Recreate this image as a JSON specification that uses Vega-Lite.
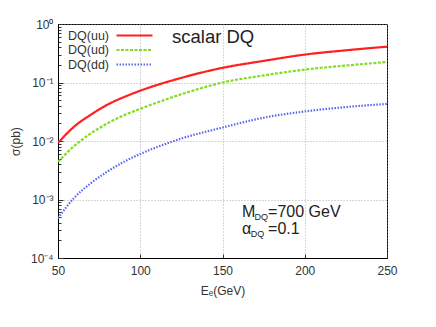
{
  "$schema": "https://vega.github.io/schema/vega-lite/v6.json",
  "autosize": {"type": "none"},
  "width": 329,
  "height": 234,
  "padding": {"left": 58, "top": 24, "right": 49, "bottom": 69},
  "background": "white",
  "config": {
    "view": {"stroke": "black", "strokeWidth": 1},
    "font": "Liberation Sans",
    "axis": {"labelFont": "Liberation Sans", "titleFont": "Liberation Sans", "labelColor": "#333", "titleColor": "#333", "titleFontWeight": "normal", "domainColor": "black", "tickColor": "#333", "gridColor": "#999", "gridDash": [1, 2], "gridWidth": 0.8}
  },
  "datasets": {
    "curves": [
      {"E": 50, "sigma": 0.0093, "series": "DQ(uu)"},
      {"E": 60, "sigma": 0.0178, "series": "DQ(uu)"},
      {"E": 70, "sigma": 0.0282, "series": "DQ(uu)"},
      {"E": 80, "sigma": 0.0417, "series": "DQ(uu)"},
      {"E": 90, "sigma": 0.0562, "series": "DQ(uu)"},
      {"E": 100, "sigma": 0.0724, "series": "DQ(uu)"},
      {"E": 125, "sigma": 0.120, "series": "DQ(uu)"},
      {"E": 150, "sigma": 0.178, "series": "DQ(uu)"},
      {"E": 175, "sigma": 0.234, "series": "DQ(uu)"},
      {"E": 200, "sigma": 0.300, "series": "DQ(uu)"},
      {"E": 225, "sigma": 0.355, "series": "DQ(uu)"},
      {"E": 250, "sigma": 0.410, "series": "DQ(uu)"},
      {"E": 50, "sigma": 0.0044, "series": "DQ(ud)"},
      {"E": 60, "sigma": 0.0083, "series": "DQ(ud)"},
      {"E": 70, "sigma": 0.0135, "series": "DQ(ud)"},
      {"E": 80, "sigma": 0.0200, "series": "DQ(ud)"},
      {"E": 90, "sigma": 0.0275, "series": "DQ(ud)"},
      {"E": 100, "sigma": 0.0355, "series": "DQ(ud)"},
      {"E": 125, "sigma": 0.063, "series": "DQ(ud)"},
      {"E": 150, "sigma": 0.100, "series": "DQ(ud)"},
      {"E": 175, "sigma": 0.132, "series": "DQ(ud)"},
      {"E": 200, "sigma": 0.166, "series": "DQ(ud)"},
      {"E": 225, "sigma": 0.195, "series": "DQ(ud)"},
      {"E": 250, "sigma": 0.224, "series": "DQ(ud)"},
      {"E": 50, "sigma": 0.00048, "series": "DQ(dd)"},
      {"E": 60, "sigma": 0.00108, "series": "DQ(dd)"},
      {"E": 70, "sigma": 0.0019, "series": "DQ(dd)"},
      {"E": 80, "sigma": 0.0030, "series": "DQ(dd)"},
      {"E": 90, "sigma": 0.0044, "series": "DQ(dd)"},
      {"E": 100, "sigma": 0.0060, "series": "DQ(dd)"},
      {"E": 125, "sigma": 0.011, "series": "DQ(dd)"},
      {"E": 150, "sigma": 0.017, "series": "DQ(dd)"},
      {"E": 175, "sigma": 0.025, "series": "DQ(dd)"},
      {"E": 200, "sigma": 0.032, "series": "DQ(dd)"},
      {"E": 225, "sigma": 0.038, "series": "DQ(dd)"},
      {"E": 250, "sigma": 0.043, "series": "DQ(dd)"}
    ],
    "notes": [
      {"E": 119.3, "sigma": 0.474, "text": "scalar DQ", "size": 18.5},
      {"E": 161.9, "sigma": 0.00051, "text": "M", "size": 16},
      {"E": 169.5, "sigma": 0.00044, "text": "DQ", "size": 9},
      {"E": 177.7, "sigma": 0.00051, "text": "=700 GeV", "size": 16},
      {"E": 161.9, "sigma": 0.00026, "text": "α", "size": 16},
      {"E": 167.2, "sigma": 0.000225, "text": "DQ", "size": 9},
      {"E": 177.7, "sigma": 0.00026, "text": "=0.1", "size": 16}
    ]
  },
  "layer": [
    {
      "data": {"name": "curves"},
      "mark": {"type": "line", "interpolate": "monotone", "clip": true},
      "encoding": {
        "x": {"field": "E", "type": "quantitative", "scale": {"domain": [50, 250], "nice": false},
          "axis": {"title": "Eₑ(GeV)", "titleFontSize": 12, "titlePadding": 9, "labelFontSize": 12, "labelPadding": 11, "values": [50, 100, 150, 200, 250], "tickSize": -4, "grid": true, "labelFlush": false}},
        "y": {"field": "sigma", "type": "quantitative", "scale": {"type": "log", "domain": [0.0001, 1], "nice": false},
          "axis": {"title": "σ(pb)", "titleFontSize": 12, "titlePadding": 8, "labelFontSize": 12, "labelPadding": 10, "labelOverlap": false,
            "values": [0.0001, 0.0002, 0.0003, 0.0004, 0.0005, 0.0006, 0.0007, 0.0008, 0.0009, 0.001, 0.002, 0.003, 0.004, 0.005, 0.006, 0.007, 0.008, 0.009, 0.01, 0.02, 0.03, 0.04, 0.05, 0.06, 0.07, 0.08, 0.09, 0.1, 0.2, 0.3, 0.4, 0.5, 0.6, 0.7, 0.8, 0.9, 1],
            "labelExpr": "abs(log(datum.value)/LN10 - round(log(datum.value)/LN10)) < 0.001 ? ['10⁻⁴','10⁻³','10⁻²','10⁻¹','10⁰'][round(log(datum.value)/LN10)+4] : ''",
            "tickSize": {"condition": {"test": "abs(log(datum.value)/LN10 - round(log(datum.value)/LN10)) < 0.001", "value": -5}, "value": -3},
            "gridOpacity": {"condition": {"test": "abs(log(datum.value)/LN10 - round(log(datum.value)/LN10)) < 0.001", "value": 1}, "value": 0}}},
        "color": {"field": "series", "type": "nominal", "sort": ["DQ(uu)", "DQ(ud)", "DQ(dd)"],
          "scale": {"domain": ["DQ(uu)", "DQ(ud)", "DQ(dd)"], "range": ["#ff2020", "#80dd20", "#5866ee"]},
          "legend": {"title": null, "orient": "none", "legendX": 69, "legendY": 4, "padding": 0, "symbolType": "M-3,0H3", "symbolSize": 144, "symbolStrokeWidth": 2, "symbolFillColor": "transparent", "labelAlign": "right", "labelOffset": -33, "labelFontSize": 12.5, "labelColor": "#333", "labelFont": "Liberation Sans", "rowPadding": 0.5, "symbolDash": {"expr": "datum.value == 'DQ(uu)' ? [1,0] : datum.value == 'DQ(ud)' ? [3,1.5] : [1.5,1.5]"}}},
        "strokeDash": {"field": "series", "type": "nominal", "scale": {"domain": ["DQ(uu)", "DQ(ud)", "DQ(dd)"], "range": [[1, 0], [3, 1.5], [1.5, 1.5]]}, "legend": null},
        "strokeWidth": {"field": "series", "type": "nominal", "scale": {"domain": ["DQ(uu)", "DQ(ud)", "DQ(dd)"], "range": [2.2, 2.2, 1.6]}, "legend": null}
      }
    },
    {
      "data": {"name": "notes"},
      "mark": {"type": "text", "align": "left", "baseline": "alphabetic", "color": "#222", "font": "Liberation Sans"},
      "encoding": {
        "x": {"field": "E", "type": "quantitative"},
        "y": {"field": "sigma", "type": "quantitative"},
        "text": {"field": "text"},
        "size": {"field": "size", "type": "quantitative", "scale": null}
      }
    }
  ]
}
